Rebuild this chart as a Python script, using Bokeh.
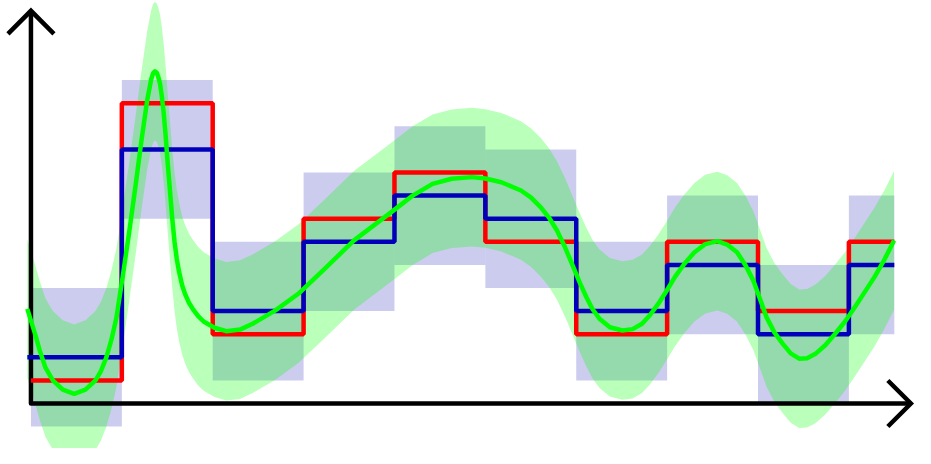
from bokeh.plotting import figure
from bokeh.embed import file_html
from bokeh.resources import INLINE
from bokeh.models import Range1d

# ---- data ----
bin_edges = [0, 1, 2, 3, 4, 5, 6, 7, 8, 9, 9.5]
red_vals = [1, 13, 3, 8, 10, 7, 3, 7, 4, 7]
blue_vals = [2, 11, 4, 7, 9, 8, 4, 6, 3, 6]
blue_lo = [-1, 8, 1, 4, 6, 5, 1, 3, 0, 3]
blue_hi = [5, 14, 7, 10, 12, 11, 7, 9, 6, 9]

green_x = [-0.04, 0.05, 0.097, 0.16, 0.241, 0.35, 0.475, 0.60, 0.71, 0.77,
           0.83, 0.885, 0.94, 1.01, 1.08, 1.15, 1.215, 1.28, 1.324, 1.345,
           1.365, 1.385, 1.40, 1.42, 1.44, 1.46, 1.48, 1.505, 1.53, 1.555,
           1.58, 1.605, 1.63, 1.665, 1.70, 1.74, 1.78, 1.84, 1.90, 2.02,
           2.15, 2.30, 2.439, 2.69, 2.942, 3.231, 3.555, 3.987, 4.2, 4.419,
           4.63, 4.851, 5.0, 5.176, 5.392, 5.5, 5.608, 5.7, 5.788, 5.878,
           5.968, 6.04, 6.112, 6.18, 6.256, 6.37, 6.508, 6.62, 6.724, 6.81,
           6.904, 6.995, 7.085, 7.19, 7.301, 7.42, 7.553, 7.66, 7.769, 7.86,
           7.949, 8.02, 8.093, 8.18, 8.273, 8.36, 8.453, 8.54, 8.632, 8.74,
           8.849, 8.96, 9.065, 9.17, 9.281, 9.39, 9.497]
green_y = [4.1, 2.95, 2.29, 1.55, 1.00, 0.6, 0.42, 0.6, 1.00, 1.4,
           2.00, 2.75, 3.70, 5.50, 7.40, 9.40, 11.35, 13.15, 14.05, 14.3,
           14.38, 14.32, 14.15, 13.85, 13.30, 12.6, 11.70, 10.4, 9.20, 8.0,
           7.00, 6.25, 5.70, 5.1, 4.70, 4.35, 4.10, 3.78, 3.55, 3.28,
           3.13, 3.2, 3.45, 4.03, 4.75, 5.83, 7.06, 8.35, 9.0, 9.51,
           9.73, 9.80, 9.74, 9.58, 9.22, 8.92, 8.50, 8.05, 7.49, 6.75,
           5.90, 5.22, 4.60, 4.08, 3.67, 3.3, 3.16, 3.22, 3.45, 3.82,
           4.32, 4.88, 5.47, 6.05, 6.55, 6.9, 7.03, 6.88, 6.55, 6.0,
           5.32, 4.55, 3.74, 3.08, 2.58, 2.17, 1.94, 1.96, 2.15, 2.52,
           3.02, 3.56, 4.17, 4.8, 5.47, 6.22, 7.06]
green_spread = 3.0        # half-height of the light green band

blue_start = -0.04        # blue step begins a hair left of the y axis
x_axis_end = 9.682        # arrow tip of the x axis
y_axis_end = 17.0         # arrow tip of the y axis

green_lo = [v - green_spread for v in green_y]
green_hi = [v + green_spread for v in green_y]

# ---- figure ----
W, H = 915, 448
x0, x1 = -0.335, 9.733
y0, y1 = -1.948, 17.446

p = figure(width=W, height=H, output_backend="svg", toolbar_location=None,
           x_axis_type=None, y_axis_type=None,
           x_range=Range1d(x0, x1), y_range=Range1d(y0, y1),
           min_border=0, outline_line_color=None)
p.background_fill_color = "white"
p.border_fill_color = "white"

# blue uncertainty boxes
p.quad(left=bin_edges[:-1], right=bin_edges[1:], bottom=blue_lo, top=blue_hi,
       fill_color="#0000aa", fill_alpha=0.2, line_color=None)

# green uncertainty band
p.varea(x=green_x, y1=green_lo, y2=green_hi, fill_color="#00ff00", fill_alpha=0.27)

# axes with open arrow heads
px_x = W / (x1 - x0)
px_y = H / (y1 - y0)
arm = 23
ax_dx, ax_dy = arm / px_x, arm / px_y
p.line([0, 0, x_axis_end], [y_axis_end, 0, 0], line_color="black", line_width=4.5,
       line_join="round")
p.multi_line(
    xs=[[-ax_dx, 0, ax_dx], [x_axis_end - ax_dx, x_axis_end, x_axis_end - ax_dx]],
    ys=[[y_axis_end - ax_dy, y_axis_end, y_axis_end - ax_dy], [ax_dy, 0, -ax_dy]],
    line_color="black", line_width=4.5, line_join="miter")

# step lines
p.step(x=bin_edges, y=red_vals + [red_vals[-1]], mode="after",
       line_color="#ff0000", line_width=4.5)
blue_x = [blue_start] + bin_edges[1:]
p.step(x=blue_x, y=blue_vals + [blue_vals[-1]], mode="after",
       line_color="#0000bb", line_width=4.5)

# green smooth curve
p.line(green_x, green_y, line_color="#00ff00", line_width=4.5, line_join="round")

open("out.html", "w").write(file_html(p, INLINE))
